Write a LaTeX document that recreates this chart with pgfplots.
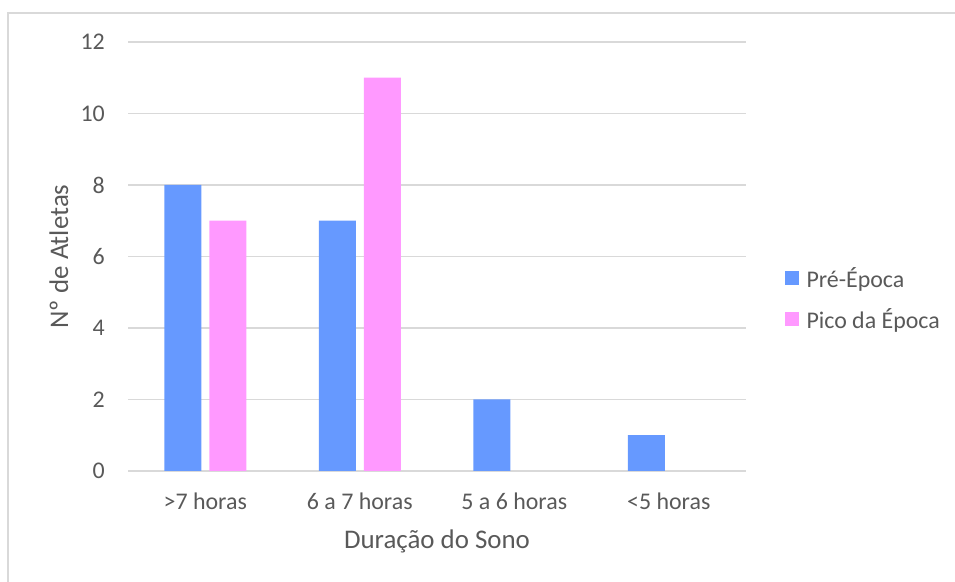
\documentclass[border=0pt]{standalone}
\usepackage{pgfplots}
\pgfplotsset{compat=1.18}
\usepackage{fontspec}
\setmainfont{Carlito}
\definecolor{txt}{HTML}{595959}
\definecolor{gridc}{HTML}{D9D9D9}
\definecolor{blueb}{HTML}{6699FF}
\definecolor{pinkb}{HTML}{FF99FF}
\begin{document}
\begin{tikzpicture}
\useasboundingbox (0bp,0bp) rectangle (955bp,582bp);
\draw[gridc, line width=1.5bp] (8bp,0bp) -- (8bp,569bp) -- (955bp,569bp);
\begin{axis}[
  at={(128bp,111bp)}, anchor=south west,
  scale only axis, width=618bp, height=429bp,
  ybar=8bp, bar width=37bp,
  xmin=-0.5, xmax=3.5, ymin=0, ymax=12,
  ytick={0,2,...,12}, xtick={0,1,2,3},
  xticklabels={{>7 horas},{6 a 7 horas},{5 a 6 horas},{<5 horas}},
  axis line style={draw=none},
  major tick length=0pt,
  ymajorgrids, grid style={gridc, line width=1.5bp},
  /pgf/number format/assume math mode=true,
  tick label style={font=\fontsize{24}{28}\selectfont, text=txt},
  yticklabel style={anchor=east, inner sep=0pt, xshift=-23bp},
  xticklabel style={anchor=base, inner sep=0pt, yshift=-38bp},
  every axis x label/.style={at={(axis description cs:0.5,-0.163)}, anchor=center, font=\fontsize{27}{31}\selectfont, text=txt},
  every axis y label/.style={at={(axis description cs:-0.112,0.5)}, rotate=90, anchor=center, font=\fontsize{27}{31}\selectfont, text=txt},
  xlabel={Duração do Sono},
  ylabel={Nº de Atletas},
  legend style={draw=none, fill=none, at={(axis description cs:1.062,0.402)}, anchor=west,
    inner sep=0pt, row sep=16bp, font=\fontsize{24}{28}\selectfont, text=txt,
    /tikz/every even column/.append style={column sep=0pt}},
  legend cell align=left,
  legend image code/.code={\fill[#1] (0bp,-7bp) rectangle (14bp,7bp); \path (20bp,0bp);},
]
\addplot[fill=blueb, draw=none] coordinates {(0,8) (1,7) (2,2) (3,1)};
\addplot[fill=pinkb, draw=none] coordinates {(0,7) (1,11)};
\legend{Pré-Época, Pico da Época}
\end{axis}
\end{tikzpicture}
\end{document}
